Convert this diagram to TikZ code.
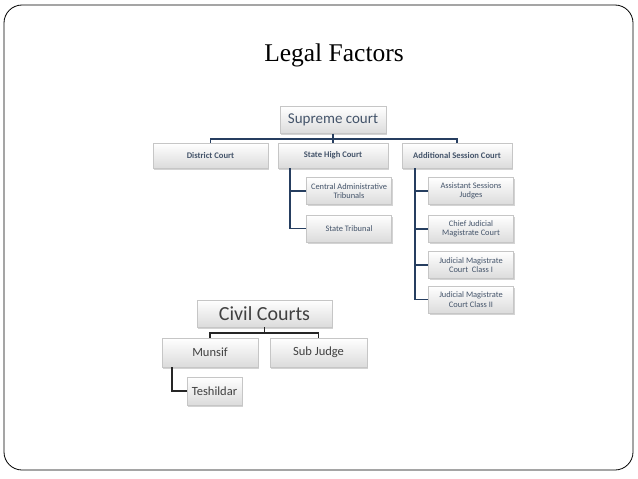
\documentclass[tikz,border=0pt]{standalone}
\usepackage{fontspec}
\setmainfont{Carlito}
\newfontfamily\titlefont{Liberation Serif}
\usetikzlibrary{shadows}

\definecolor{boxtext}{RGB}{68,84,106}
\definecolor{navyline}{RGB}{38,62,96}
\definecolor{civiltext}{RGB}{64,64,64}

\begin{document}
\begin{tikzpicture}[x=1pt, y=-1pt,
    court/.style={draw=gray!45, line width=0.4pt, top color=white, bottom color=gray!28,
        drop shadow={shadow xshift=1.2pt, shadow yshift=-1.5pt, opacity=0.35},
        align=center, inner sep=1pt, text=boxtext},
    small/.style={court, font=\fontsize{8.4}{9.6}\selectfont, minimum width=85pt, minimum height=27pt},
    level/.style={court, font=\bfseries\fontsize{8.6}{10}\selectfont, minimum height=25pt},
    branch/.style={draw=navyline, line width=1.6pt},
    civilbox/.style={court, text=civiltext, minimum height=29pt},
    civilline/.style={draw=black!85, line width=1.6pt}]
    \useasboundingbox (0,0) rectangle (638,479);

        % Slide frame and title
            \draw[line width=0.8pt, rounded corners=18pt] (4,5) rectangle (633,470);
            \node[font=\titlefont\fontsize{25.5}{28}\selectfont] (title) at (334,55) {Legal Factors};

            % Top level
            \node[court, font=\fontsize{15}{17}\selectfont, minimum width=106pt, minimum height=27pt] (supreme) at (333,120) {Supreme court};

            % Second level
            \node[level, minimum width=115pt] (district) at (210.5,155.5) {District Court};
            \node[level, minimum width=110pt] (statehigh) at (333,155.5) {State High Court};
            \node[level, minimum width=110pt] (addl) at (457,155.5) {Additional Session Court};

            % Under the State High Court
            \node[small] (central) at (349,191) {Central Administrative\\Tribunals};
            \node[small] (statetrib) at (349,228.5) {State Tribunal};

            % Under the Additional Session Court
            \node[small] (assist) at (471,191) {Assistant Sessions\\Judges};
            \node[small] (chief) at (471,229) {Chief Judicial\\Magistrate Court};
            \node[small] (jmone) at (471,265) {Judicial Magistrate\\Court\ \ Class I};
            \node[small] (jmtwo) at (471,299.5) {Judicial Magistrate\\Court Class II};

            % Connections: top tree
            \draw[branch] (district.north) -- ++(0,-4) -| (addl.north);
            \draw[branch] (supreme.south) -- (statehigh.north);
            \draw[branch] (statehigh.south west) ++(12,0) |- (statetrib.west);
            \draw[branch] (statehigh.south west) ++(12,0) |- (central.west);
            \draw[branch] (addl.south west) ++(13,0) |- (jmtwo.west);
            \draw[branch] (addl.south west) ++(13,0) |- (assist.west);
            \draw[branch] (addl.south west) ++(13,0) |- (chief.west);
            \draw[branch] (addl.south west) ++(13,0) |- (jmone.west);

            % Civil courts
            \node[civilbox, font=\fontsize{20}{22}\selectfont, minimum width=135pt, minimum height=27pt] (civil) at (264.5,313.5) {Civil Courts};
            \node[civilbox, font=\fontsize{12.5}{14}\selectfont, minimum width=96pt] (munsif) at (210,352.5) {Munsif};
            \node[civilbox, font=\fontsize{12.5}{14}\selectfont, minimum width=97pt] (subjudge) at (318.5,352.5) {Sub Judge};
            \node[civilbox, font=\fontsize{12.5}{14}\selectfont, minimum width=55pt, minimum height=28pt] (teshildar) at (214.5,391) {Teshildar};

            % Connections: civil tree
            \draw[civilline] (munsif.north) -- ++(0,-5) -| (subjudge.north);
            \draw[civilline] (civil.south) -- ++(0,6);
            \draw[civilline] (munsif.south west) ++(10,0) |- (teshildar.west);
    \end{tikzpicture}
\end{document}
